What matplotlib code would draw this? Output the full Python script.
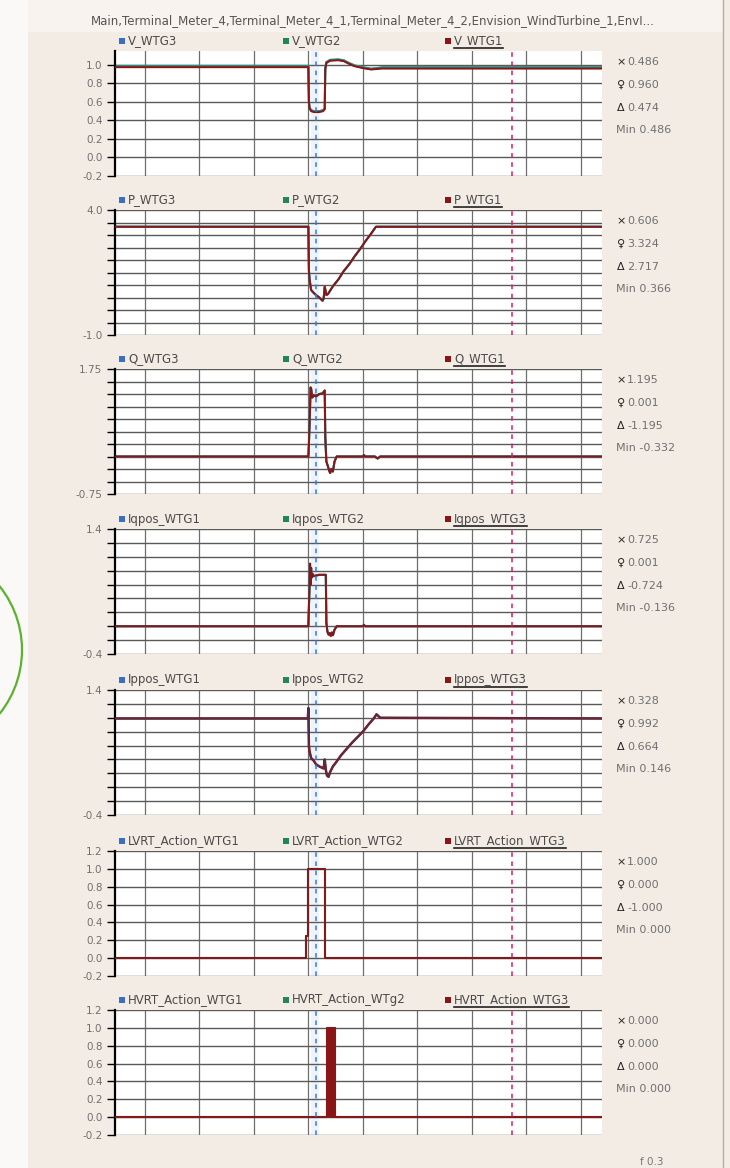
import numpy as np
import matplotlib.pyplot as plt
from matplotlib.patches import Rectangle, Circle

W, H = 730, 1168

# time axis (s) shared by all panels
t_min, t_max = -0.55, 8.39
grid_t = [0, 1, 2, 3, 4, 5, 6, 7, 8]
cursor_a = 3.14
cursor_b = 6.73

title = "Main,Terminal_Meter_4,Terminal_Meter_4_1,Terminal_Meter_4_2,Envision_WindTurbine_1,EnvI..."

# voltage
v_t = [-0.55, 3.00, 3.01, 3.02, 3.05, 3.10, 3.20, 3.27, 3.30, 3.31, 3.33, 3.40, 3.55, 3.65, 3.75, 3.85, 4.00, 4.15, 4.25, 4.35, 8.39]
v_wtg1 = [0.975, 0.975, 0.60, 0.53, 0.50, 0.49, 0.49, 0.50, 0.52, 0.95, 1.02, 1.045, 1.05, 1.04, 1.01, 0.985, 0.965, 0.95, 0.955, 0.96, 0.96]
v_wtg2 = [0.99, 0.99, 0.61, 0.54, 0.51, 0.50, 0.50, 0.51, 0.53, 0.96, 1.03, 1.055, 1.06, 1.05, 1.02, 0.995, 0.975, 0.96, 0.965, 0.975, 0.975]
v_wtg3 = [0.985, 0.985, 0.61, 0.54, 0.51, 0.50, 0.50, 0.51, 0.53, 0.96, 1.03, 1.05, 1.055, 1.045, 1.015, 0.99, 0.97, 0.955, 0.96, 0.97, 0.97]

# active power (all three WTGs overlap)
p_t = [-0.55, 3.00, 3.01, 3.02, 3.05, 3.10, 3.15, 3.20, 3.26, 3.28, 3.30, 3.33, 3.36, 3.45, 3.55, 3.65, 3.75, 3.85, 3.95, 4.05, 4.15, 4.24, 8.39]
p_val = [3.33, 3.33, 1.60, 1.25, 0.80, 0.68, 0.58, 0.50, 0.37, 0.45, 0.93, 0.60, 0.64, 0.95, 1.22, 1.56, 1.83, 2.15, 2.44, 2.76, 3.05, 3.33, 3.33]

# reactive power
q_t = [-0.55, 3.00, 3.01, 3.03, 3.04, 3.05, 3.07, 3.10, 3.14, 3.20, 3.26, 3.30, 3.31, 3.33, 3.36, 3.38, 3.40, 3.42, 3.45, 3.48, 3.52, 4.00, 4.02, 4.04, 4.22, 4.27, 4.32, 8.39]
q_val = [0.0, 0.0, 0.25, 0.95, 1.38, 1.36, 1.18, 1.22, 1.20, 1.25, 1.26, 1.32, 0.40, -0.10, -0.20, -0.28, -0.33, -0.25, -0.30, -0.10, 0.0, 0.0, 0.03, 0.0, 0.0, -0.04, 0.0, 0.0]

# reactive current
iq_t = [-0.55, 3.00, 3.02, 3.03, 3.04, 3.05, 3.06, 3.08, 3.10, 3.14, 3.20, 3.32, 3.33, 3.35, 3.37, 3.39, 3.41, 3.43, 3.45, 3.48, 3.52, 4.00, 4.02, 4.04, 8.39]
iq_val = [0.0, 0.0, 0.55, 0.90, 0.60, 0.84, 0.70, 0.75, 0.72, 0.73, 0.74, 0.74, 0.05, -0.08, -0.12, -0.10, -0.14, -0.09, -0.13, -0.05, 0.0, 0.0, 0.02, 0.0, 0.0]

# active current
ip_t = [-0.55, 2.99, 3.00, 3.01, 3.02, 3.05, 3.10, 3.14, 3.20, 3.25, 3.28, 3.30, 3.32, 3.34, 3.37, 3.40, 3.45, 3.50, 3.60, 3.70, 3.80, 3.90, 4.00, 4.10, 4.20, 4.25, 4.32, 8.39]
ip_val = [0.99, 0.99, 1.14, 0.60, 0.52, 0.42, 0.38, 0.33, 0.30, 0.28, 0.27, 0.40, 0.25, 0.17, 0.15, 0.22, 0.30, 0.35, 0.46, 0.55, 0.64, 0.72, 0.80, 0.90, 0.99, 1.05, 1.00, 0.99]

# LVRT / HVRT flags (step signals)
lvrt_t = [-0.55, 2.965, 2.995, 3.30, 8.39]
lvrt_val = [0, 0.25, 1.0, 0, 0]
hvrt_t = [-0.55, 3.345, 3.38, 3.388, 3.396, 3.404, 3.412, 3.42, 3.428, 3.436, 3.444, 3.452, 3.46, 3.468, 3.476, 3.486, 8.39]
hvrt_val = [0, 1, 0, 1, 0, 1, 0, 1, 0, 1, 0, 1, 0, 1, 1, 0, 0]

# cursor readouts shown at the right
stats_x = ["0.486", "0.606", "1.195", "0.725", "0.328", "1.000", "0.000"]
stats_o = ["0.960", "3.324", "0.001", "0.001", "0.992", "0.000", "0.000"]
stats_d = ["0.474", "2.717", "-1.195", "-0.724", "0.664", "-1.000", "0.000"]
stats_min = ["0.486", "0.366", "-0.332", "-0.136", "0.146", "0.000", "0.000"]

colors = ["#3d6cc0", "#23845c", "#8b1515"]


def all_labels(ticks):
    return ["%.1f" % (0.0 if abs(v) < 1e-9 else v) for v in ticks]


def end_labels(ticks, fmt):
    return [fmt % ticks[0]] + [""] * (len(ticks) - 2) + [fmt % ticks[-1]]


t02 = np.round(np.arange(-0.2, 1.21, 0.2), 2)
t_v = np.round(np.arange(-0.2, 1.01, 0.2), 2)
t_p = np.round(np.arange(-1.0, 4.01, 0.5), 2)
t_q = np.round(np.arange(-0.75, 1.76, 0.25), 2)
t_i = np.round(np.arange(-0.4, 1.41, 0.2), 2)

panels = [
    dict(names=["V_WTG3", "V_WTG2", "V_WTG1"], t=v_t, series=[v_wtg3, v_wtg2, v_wtg1],
         ylim=(-0.2, 1.15), ticks=t_v, labels=all_labels(t_v)),
    dict(names=["P_WTG3", "P_WTG2", "P_WTG1"], t=p_t, series=[p_val, p_val, p_val],
         ylim=(-1.0, 4.0), ticks=t_p, labels=end_labels(t_p, "%.1f")),
    dict(names=["Q_WTG3", "Q_WTG2", "Q_WTG1"], t=q_t, series=[q_val, q_val, q_val],
         ylim=(-0.75, 1.75), ticks=t_q, labels=end_labels(t_q, "%.2f")),
    dict(names=["Iqpos_WTG1", "Iqpos_WTG2", "Iqpos_WTG3"], t=iq_t, series=[iq_val, iq_val, iq_val],
         ylim=(-0.4, 1.4), ticks=t_i, labels=end_labels(t_i, "%.1f")),
    dict(names=["Ippos_WTG1", "Ippos_WTG2", "Ippos_WTG3"], t=ip_t, series=[ip_val, ip_val, ip_val],
         ylim=(-0.4, 1.4), ticks=t_i, labels=end_labels(t_i, "%.1f"), blue_top=True),
    dict(names=["LVRT_Action_WTG1", "LVRT_Action_WTG2", "LVRT_Action_WTG3"], t=lvrt_t,
         series=[lvrt_val, lvrt_val, lvrt_val], ylim=(-0.2, 1.2), ticks=t02, labels=all_labels(t02), step=True),
    dict(names=["HVRT_Action_WTG1", "HVRT_Action_WTg2", "HVRT_Action_WTG3"], t=hvrt_t,
         series=[hvrt_val, hvrt_val, hvrt_val], ylim=(-0.2, 1.2), ticks=t02, labels=all_labels(t02), step=True),
]

tops = [51, 210, 369, 529, 690, 851, 1010]
ph = 125
left, right = 115, 602

fig = plt.figure(figsize=(W / 100, H / 100), dpi=100)
fig.patch.set_facecolor("#f3ece4")

# background layer in pixel coordinates
bg = fig.add_axes([0, 0, 1, 1], zorder=-10)
bg.set_xlim(0, W)
bg.set_ylim(H, 0)
bg.axis("off")
bg.add_patch(Rectangle((0, 0), 28, H, color="#fbf9f7", lw=0))
bg.add_patch(Rectangle((28, 0), 695, 32, color="#f8f3ee", lw=0))
bg.plot([723, 723], [0, H], color="#b5ada4", lw=1)
bg.add_patch(Circle((-80, 650), 102, fill=False, ec="#5cb130", lw=1.6))

bg.text(373, 21, title, ha="center", va="center", fontsize=8.5, color="#555555")
bg.text(640, 1162, "f 0.3", ha="left", va="center", fontsize=7.5, color="#777777")

legend_cols = [119, 283, 445]
underline = []

for i, p in enumerate(panels):
    top = tops[i]
    ax = fig.add_axes([left / W, 1 - (top + ph) / H, (right - left) / W, ph / H])
    ax.set_facecolor("white")
    ax.set_xlim(t_min, t_max)
    ax.set_ylim(*p["ylim"])

    for g in grid_t:
        ax.axvline(g, color="#6e6e6e", lw=0.9, zorder=1)
    for yt in p["ticks"]:
        ax.axhline(yt, color="#5a5a5a", lw=1.0, zorder=1)

    ax.axvspan(cursor_a - 0.1, cursor_a + 0.06, color="#eef4fb", lw=0, zorder=0.5)
    ax.axvline(cursor_a, color="#3a78d0", lw=1.1, ls=(0, (3, 3)), zorder=4)
    ax.axvline(cursor_b, color="#d81b60", lw=1.1, ls=(0, (3, 3)), zorder=4)

    ds = "steps-post" if p.get("step") else "default"
    s_blue, s_green, s_red = p["series"]
    if p.get("blue_top"):
        ax.plot(p["t"], s_green, color=colors[1], lw=1.3, zorder=2, drawstyle=ds)
        ax.plot(p["t"], s_red, color=colors[2], lw=1.8, zorder=3, drawstyle=ds)
        ax.plot(p["t"], s_blue, color="#2a3f7a", lw=1.0, alpha=0.6, zorder=3.5, drawstyle=ds)
    else:
        ax.plot(p["t"], s_blue, color=colors[0], lw=1.5, zorder=2, drawstyle=ds)
        ax.plot(p["t"], s_green, color="#2a8f7a", lw=1.5, zorder=2.5, drawstyle=ds)
        ax.plot(p["t"], s_red, color=colors[2], lw=1.4, zorder=3, drawstyle=ds)

    for s in ["top", "right", "bottom"]:
        ax.spines[s].set_visible(False)
    ax.spines["left"].set_linewidth(1.6)
    ax.spines["left"].set_color("black")
    ax.set_xticks([])
    ax.set_yticks(p["ticks"])
    ax.set_yticklabels(p["labels"])
    ax.tick_params(axis="y", direction="out", length=6, width=1, colors="black",
                   labelcolor="#707070", labelsize=7.5, pad=3)

    # legend row
    ly = top - 10
    for j, name in enumerate(p["names"]):
        bg.add_patch(Rectangle((legend_cols[j], ly - 3), 6, 6, color=colors[j], lw=0))
        txt = bg.text(legend_cols[j] + 9, ly, name, ha="left", va="center",
                      fontsize=8.5, color="#4a4a4a")
        if j == 2:
            underline.append((txt, ly))

    # cursor readouts
    rows = [("×", stats_x[i]), ("♀", stats_o[i]), ("Δ", stats_d[i])]
    for (m, val), off in zip(rows, [11, 34, 57]):
        bg.text(621, top + off, m, ha="center", va="center", fontsize=8, color="#222222")
        bg.text(627, top + off, val, ha="left", va="center", fontsize=8, color="#707070")
    bg.text(616, top + 79, "Min " + stats_min[i], ha="left", va="center", fontsize=8, color="#707070")

fig.canvas.draw()
renderer = fig.canvas.get_renderer()
for txt, ly in underline:
    bb = txt.get_window_extent(renderer)
    bg.plot([bb.x0, bb.x1], [ly + 7, ly + 7], color="#222222", lw=1.2)

fig.savefig("out.png", dpi=100, facecolor=fig.get_facecolor())
